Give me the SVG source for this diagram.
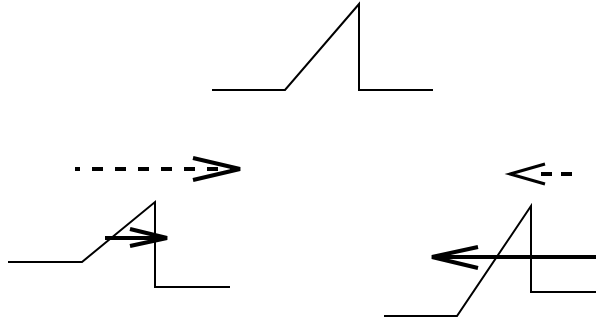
<svg xmlns="http://www.w3.org/2000/svg" width="596" height="322" viewBox="0 0 596 322">
<style>
.wave{fill:none;stroke:#000;stroke-width:2;stroke-linejoin:miter}
.arr{fill:none;stroke:#000;stroke-linecap:butt;stroke-linejoin:miter}
</style>
<rect width="596" height="322" fill="#fff"/>
<g id="wave-top"><polyline class="wave" points="212,90 285,90 359,4 359,90 433,90"/></g>
<g id="wave-left"><polyline class="wave" points="8,262 82,262 155,202 155,287 230,287"/></g>
<g id="wave-right"><polyline class="wave" points="384,316 457,316 531,206 531,292 596,292"/></g>
<g id="connectors">
<line class="arr" x1="75" y1="169" x2="234" y2="169" stroke-width="4" stroke-dasharray="11 12" stroke-dashoffset="6"/>
<polyline class="arr" points="193,158 240,169 193,180" stroke-width="4"/>
<line class="arr" x1="572" y1="174" x2="540" y2="174" stroke-width="4" stroke-dasharray="11 9"/>
<polyline class="arr" points="545,164 510,174 545,184" stroke-width="3"/>
<line class="arr" x1="105" y1="238" x2="164" y2="238" stroke-width="4"/>
<polyline class="arr" points="130,229 167,238 130,246" stroke-width="4"/>
<line class="arr" x1="596" y1="257" x2="436" y2="257" stroke-width="4"/>
<polyline class="arr" points="478,247 432,257 478,268" stroke-width="4"/>
</g>
</svg>
